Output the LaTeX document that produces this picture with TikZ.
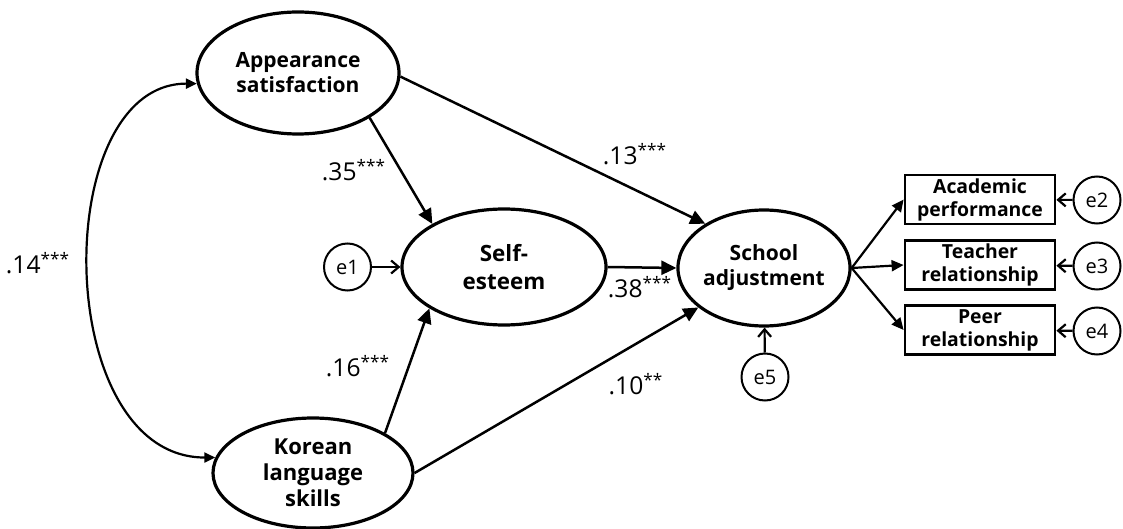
\documentclass[tikz,border=0pt]{standalone}
\usepackage{fontspec}
\setmainfont{Open Sans}
\usetikzlibrary{shapes.geometric,arrows.meta}
\begin{document}
\begin{tikzpicture}[x=0.5pt,y=-0.5pt,
 lat/.style={ellipse,draw,line width=1.6pt,inner sep=0pt,align=center,font=\bfseries\fontsize{10.5}{12.5}\selectfont},
 obs/.style={rectangle,draw,line width=1.4pt,minimum width=75pt,minimum height=24.5pt,inner sep=0pt,align=center,font=\bfseries\fontsize{9.7}{11.5}\selectfont},
 err/.style={circle,draw,line width=1pt,minimum size=23.5pt,inner sep=0pt,font=\fontsize{10}{11}\selectfont},
 regpath/.style={line width=1.25pt,-{Triangle[length=7.5pt,width=7pt]}},
 indpath/.style={line width=1.1pt,-{Triangle[length=6pt,width=5.5pt]}},
 respath/.style={line width=1.1pt,-{Straight Barb[length=3.8pt,width=6.5pt]}},
 covpath/.style={line width=1.1pt,{Triangle[length=5.5pt,width=5pt]}-{Triangle[length=5.5pt,width=5pt]}},
 coef/.style={font=\fontsize{12.3}{14}\selectfont,inner sep=0pt}
]
\useasboundingbox (0,0) rectangle (1123,529);

% latent variables
\node[lat,minimum width=101pt,minimum height=61pt] (A) at (298,73) {Appearance\\satisfaction};
\node[lat,minimum width=100pt,minimum height=55pt,font=\bfseries\fontsize{11}{13}\selectfont] (K) at (313,473) {Korean\\language\\skills};
\node[lat,minimum width=102pt,minimum height=58pt,font=\bfseries\fontsize{11.2}{14}\selectfont] (S) at (504,267) {Self-\\esteem};
\node[lat,minimum width=86pt,minimum height=58pt] (SA) at (764,268) {School\\adjustment};

% observed variables
\node[obs] (Ac) at (980,199.5) {Academic\\performance};
\node[obs] (Te) at (980,265) {Teacher\\relationship};
\node[obs] (Pe) at (980,330) {Peer\\relationship};

% error terms
\node[err] (e1) at (347.5,267) {e1};
\node[err] (e2) at (1097,200) {e2};
\node[err] (e3) at (1097,266) {e3};
\node[err] (e4) at (1097,331) {e4};
\node[err] (e5) at (765,377) {e5};

% structural paths
\draw[regpath] (A.-32) -- (S.149);
\draw[regpath] (A.-2) -- (SA.143);
\draw[regpath] (S.east) -- (SA.west);
\draw[regpath] (K.29) -- (S.209);
\draw[regpath] (K.east) -- (SA.211);

% measurement paths
\draw[indpath] (SA.east) -- (Ac.west);
\draw[indpath] (SA.east) -- (Te.west);
\draw[indpath] (SA.east) -- (Pe.west);

% residuals
\draw[respath] (e1) -- (S);
\draw[respath] (e2) -- (Ac);
\draw[respath] (e3) -- (Te);
\draw[respath] (e4) -- (Pe);
\draw[respath] (e5) -- (SA);

% covariance
\draw[covpath] (A.186) .. controls +(-148,0) and +(-164,0) .. (K.171);

% coefficients
\node[coef] (c14) at (38,263) {.14\textsuperscript{***}};
\node[coef] (c35) at (354,170) {.35\textsuperscript{***}};
\node[coef] (c13) at (635,154) {.13\textsuperscript{***}};
\node[coef] (c38) at (640,287) {.38\textsuperscript{***}};
\node[coef] (c16) at (358,366) {.16\textsuperscript{***}};
\node[coef] (c10) at (636,384) {.10\textsuperscript{**}};
\end{tikzpicture}
\end{document}
